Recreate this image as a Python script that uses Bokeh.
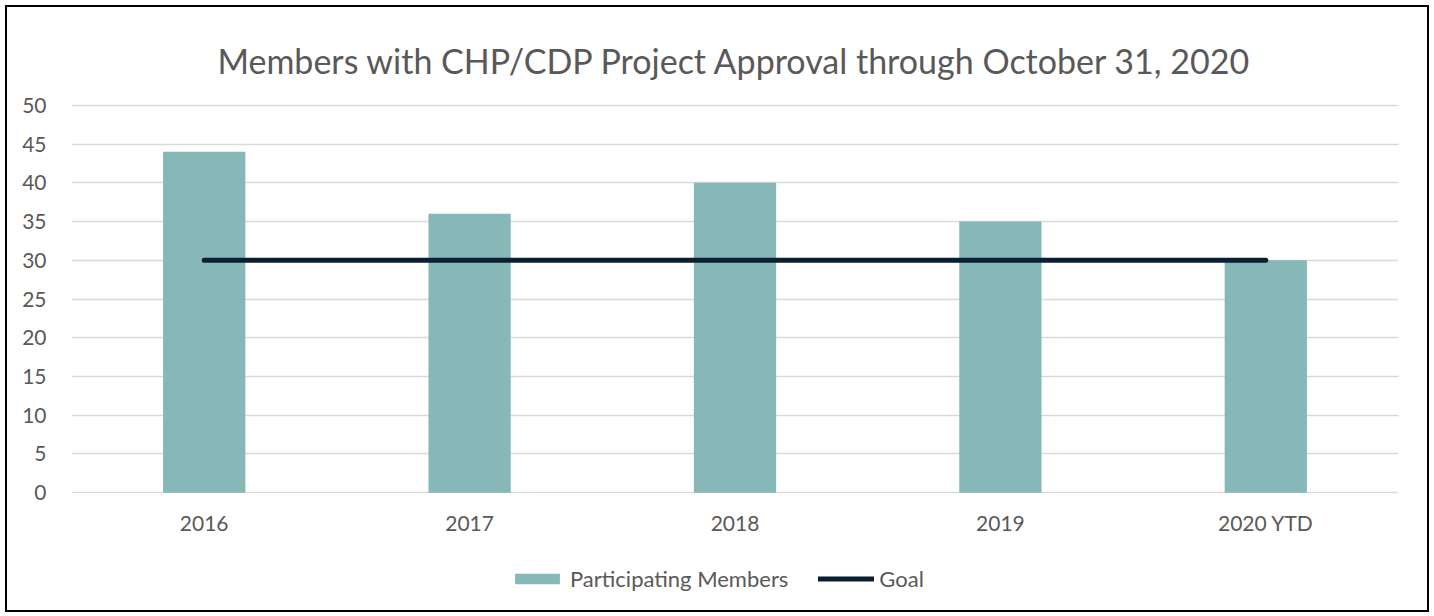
from bokeh.plotting import figure
from bokeh.models import Legend, LegendItem, FactorRange, Range1d, FixedTicker
from bokeh.layouts import column
from bokeh.embed import file_html
from bokeh.resources import INLINE

categories = ["2016", "2017", "2018", "2019", "2020 YTD"]
participating = [44, 36, 40, 35, 30]
goal = [30, 30, 30, 30, 30]
y_ticks = [0, 5, 10, 15, 20, 25, 30, 35, 40, 45, 50]

FONT = "Lato"
TXT = "#595959"
BAR_COLOR = "#87B8B8"
GOAL_COLOR = "#0B1F33"

x_range = FactorRange(*categories)
p = figure(x_range=x_range, y_range=Range1d(-0.1, 50.1),
           width=1420, height=541,
           min_border_left=64, min_border_right=29, min_border_top=97, min_border_bottom=55,
           output_backend="svg", toolbar_location=None,
           title="Members with CHP/CDP Project Approval through October 31, 2020")

p.outline_line_color = None
p.border_fill_color = "white"
p.background_fill_color = "white"

p.title.align = "center"
p.title.text_font = FONT
p.title.text_font_size = "34px"
p.title.text_font_style = "normal"
p.title.text_color = TXT
p.title.standoff = 47

p.vbar(x=categories, top=participating, width=0.31, fill_color=BAR_COLOR, line_color=None)
p.line(x=categories, y=goal, line_color=GOAL_COLOR, line_width=5, line_cap="round")

p.yaxis.ticker = FixedTicker(ticks=y_ticks)
for ax in (p.xaxis[0], p.yaxis[0]):
    ax.axis_line_color = None
    ax.major_tick_line_color = None
    ax.minor_tick_line_color = None
    ax.major_label_text_font = FONT
    ax.major_label_text_font_size = "21px"
    ax.major_label_text_color = TXT
p.yaxis.major_label_standoff = 19
p.xaxis.major_label_standoff = 10

p.xgrid.grid_line_color = None
p.ygrid.grid_line_color = "#D9D9D9"
p.ygrid.grid_line_width = 1.5

# legend strip below the chart (same series, drawn out of its view; only the legend shows)
lg = figure(width=1420, height=62, x_range=x_range, y_range=Range1d(1000, 1001),
            min_border_left=0, min_border_right=0, min_border_top=0, min_border_bottom=0,
            output_backend="svg", toolbar_location=None)
lg.axis.visible = False
lg.grid.grid_line_color = None
lg.outline_line_color = None
lg.border_fill_color = "white"
lg.background_fill_color = "white"
r_bar = lg.vbar(x=categories, top=participating, width=0.31, fill_color=BAR_COLOR, line_color=None)
r_goal = lg.line(x=categories, y=goal, line_color=GOAL_COLOR, line_width=5, line_cap="round")

legend = Legend(items=[LegendItem(label="Participating Members", renderers=[r_bar]),
                       LegendItem(label="Goal", renderers=[r_goal])],
                orientation="horizontal", location=(438, 18),
                label_text_font=FONT, label_text_font_size="22px", label_text_color=TXT,
                glyph_width=56, glyph_height=13, spacing=30, label_standoff=5,
                border_line_color=None, background_fill_alpha=0, padding=0, margin=0)
lg.add_layout(legend, "center")

layout = column(p, lg, spacing=0)
layout.styles = {"border": "2px solid black", "margin": "5px 0 0 5px"}

open("out.html", "w").write(file_html(layout, INLINE))
